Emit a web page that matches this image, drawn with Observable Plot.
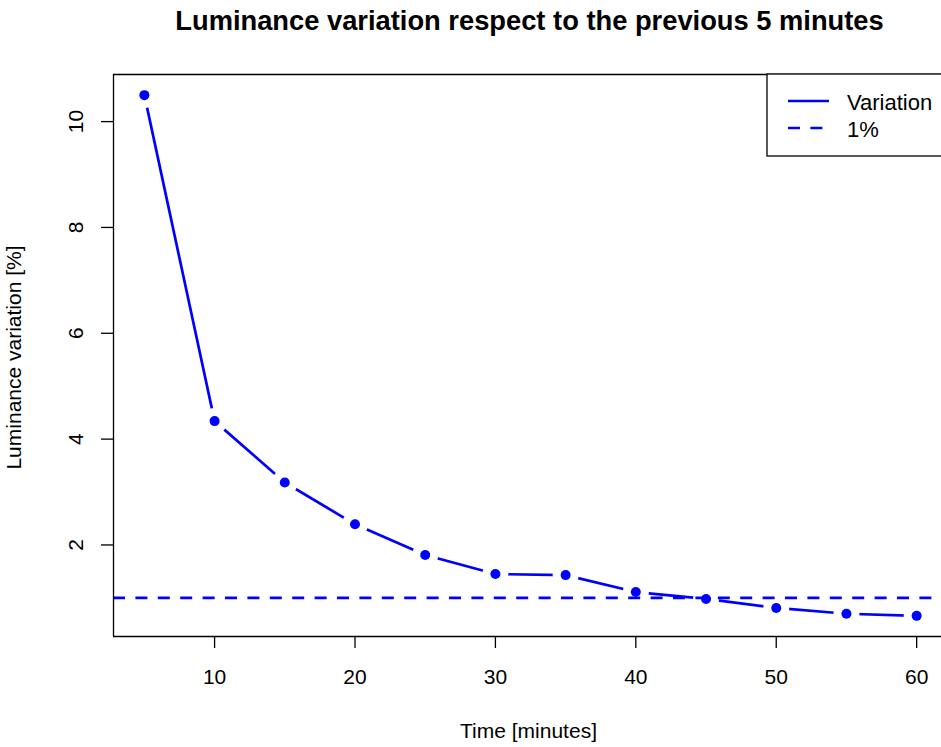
<!DOCTYPE html>
<html>
<head>
<meta charset="utf-8">
<script src="https://cdn.jsdelivr.net/npm/d3@7"></script>
<script src="https://cdn.jsdelivr.net/npm/@observablehq/plot@0.6"></script>
<style>
  html, body { margin: 0; padding: 0; background: #ffffff; }
  #chart { width: 941px; height: 747px; overflow: hidden; }
</style>
</head>
<body>
<div id="chart"></div>
<script>
// ---- data ----
const minutes = [5, 10, 15, 20, 25, 30, 35, 40, 45, 50, 55, 60];
const variation = [10.5, 4.34, 3.18, 2.39, 1.81, 1.45, 1.43, 1.11, 0.98, 0.81, 0.70, 0.66];
const threshold = [1];
const xTicks = [10, 20, 30, 40, 50, 60];
const yTicks = [2, 4, 6, 8, 10];
const legendLabels = ["Variation", "1%"];
const titleText = ["Luminance variation respect to the previous 5 minutes"];
const xLabel = ["Time [minutes]"];
const yLabel = ["Luminance variation [%]"];
const xDomain = [2.8, 61.77];
const yDomain = [0.27, 10.89];

const data = minutes.map((m, i) => ({minute: m, value: variation[i]}));
const BLUE = "#0000ff";

const chart = Plot.plot({
  width: 941,
  height: 747,
  marginLeft: 113,
  marginRight: 0,
  marginTop: 74,
  marginBottom: 111,
  style: {fontFamily: "'Liberation Sans', Arial, sans-serif", background: "#ffffff", color: "#000000"},
  x: {domain: xDomain},
  y: {domain: yDomain},
  marks: [
    Plot.line(data, {x: "minute", y: "value", stroke: BLUE, strokeWidth: 2.7}),
    Plot.dot(data, {x: "minute", y: "value", r: 13, fill: "#ffffff", stroke: null}),
    Plot.dot(data, {x: "minute", y: "value", r: 5, fill: BLUE, stroke: null}),
    Plot.ruleY(threshold, {stroke: BLUE, strokeWidth: 2.7, strokeDasharray: "12,10.4"}),
    // frame (right side is outside the window)
    Plot.ruleY([yDomain[0], yDomain[1]], {stroke: "#000000", strokeWidth: 1.3}),
    Plot.ruleX([xDomain[0]], {stroke: "#000000", strokeWidth: 1.3}),
    Plot.axisX(xTicks, {tickSize: 12, tickPadding: 21, fontSize: 21, label: null, strokeWidth: 1.3}),
    Plot.axisY(yTicks, {tickSize: 12, tickFormat: () => "", label: null, strokeWidth: 1.3}),
    Plot.text(yTicks, {y: d => d, text: d => String(d), frameAnchor: "left", dx: -31, rotate: -90,
      lineAnchor: "bottom", textAnchor: "middle", fontSize: 21}),
    Plot.text(yLabel, {text: d => d, frameAnchor: "left", dx: -93, dy: 2, rotate: -90,
      lineAnchor: "bottom", textAnchor: "middle", fontSize: 21}),
    Plot.text(xLabel, {text: d => d, frameAnchor: "bottom", dy: 101, dx: 1,
      lineAnchor: "bottom", fontSize: 21}),
    Plot.text(titleText, {text: d => d, frameAnchor: "top", dy: -45, dx: 2,
      lineAnchor: "bottom", fontSize: 27.3, fontWeight: "bold"})
  ]
});

document.getElementById("chart").appendChild(chart);

// ---- legend (R-style boxed legend, top-right) ----
const svg = d3.select(chart);
const lg = svg.append("g").attr("class", "legend");
lg.append("rect")
  .attr("x", 767).attr("y", 74).attr("width", 200).attr("height", 82)
  .attr("fill", "#ffffff").attr("stroke", "#000000").attr("stroke-width", 1.3);
const styles = [null, "12,10.4"];
legendLabels.forEach((lab, i) => {
  const yy = 101 + i * 27;
  lg.append("line")
    .attr("x1", 788).attr("x2", 829).attr("y1", yy).attr("y2", yy)
    .attr("stroke", BLUE).attr("stroke-width", 2.7)
    .attr("stroke-dasharray", styles[i]);
  lg.append("text")
    .attr("x", 847).attr("y", yy + 9)
    .attr("text-anchor", "start")
    .attr("font-size", 22)
    .attr("fill", "#000000")
    .text(lab);
});
</script>
</body>
</html>
